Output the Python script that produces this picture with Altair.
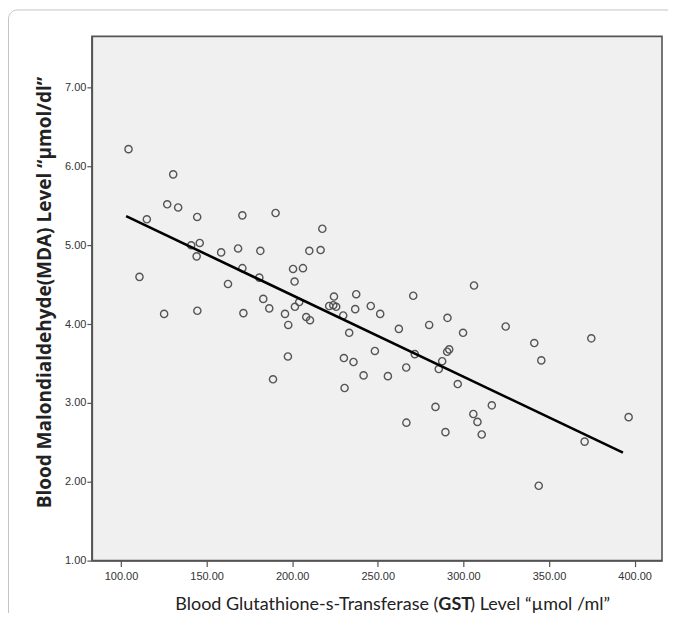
import altair as alt
import pandas as pd

gst = [104.4, 130.5, 127.0, 133.4, 115.1, 144.5, 170.9, 190.3, 141.0, 146.0,
       144.2, 158.5, 168.4, 181.4, 170.9, 180.8, 110.8, 162.5, 183.1, 186.6,
       125.2, 144.6, 171.5, 195.8, 197.7, 200.5, 217.6, 210.0, 216.6, 206.3,
       201.4, 306.2, 270.7, 237.4, 224.4, 201.6, 208.2, 210.4, 221.6, 224.0,
       225.7, 229.8, 236.8, 245.9, 251.4, 262.3, 280.0, 290.7, 299.8, 233.3,
       197.5, 230.2, 235.8, 241.7, 248.3, 188.8, 230.6, 324.7, 341.4, 345.5,
       374.7, 271.6, 291.7, 290.5, 287.6, 285.6, 266.6, 255.9, 296.7, 316.6,
       283.7, 305.8, 308.2, 266.7, 289.5, 310.7, 370.8, 396.5, 344.0, 204.1]
mda = [6.22, 5.90, 5.52, 5.48, 5.33, 5.36, 5.38, 5.41, 5.00, 5.03,
       4.86, 4.91, 4.96, 4.93, 4.71, 4.59, 4.60, 4.51, 4.32, 4.20,
       4.13, 4.17, 4.14, 4.13, 3.99, 4.70, 5.21, 4.93, 4.94, 4.71,
       4.54, 4.49, 4.36, 4.38, 4.35, 4.22, 4.09, 4.05, 4.23, 4.24,
       4.22, 4.11, 4.19, 4.23, 4.13, 3.94, 3.99, 4.08, 3.89, 3.89,
       3.59, 3.57, 3.52, 3.35, 3.66, 3.30, 3.19, 3.97, 3.76, 3.54,
       3.82, 3.62, 3.68, 3.65, 3.53, 3.43, 3.45, 3.34, 3.24, 2.97,
       2.95, 2.86, 2.76, 2.75, 2.63, 2.60, 2.51, 2.82, 1.95, 4.28]

# fit line (as drawn in the reference)
fit_gst = [103.0, 393.2]
fit_mda = [5.37, 2.37]

x_ticks = [100, 150, 200, 250, 300, 350, 400]
y_ticks = [1, 2, 3, 4, 5, 6, 7]

x_title_parts = ["Blood Glutathione-s-Transferase (", "GST", ") Level “µmol /ml”"]
y_title = "Blood Malondialdehyde(MDA)  Level “µmol/dl”"

df = pd.DataFrame({"gst": gst, "mda": mda})
fit_df = pd.DataFrame({"gst": fit_gst, "mda": fit_mda})

W, H = 571, 525
FONT = "Lato"

xs = alt.Scale(domain=[83, 416], nice=False, zero=False)
ys = alt.Scale(domain=[1, 7.65], nice=False, zero=False)

x_axis = alt.Axis(values=x_ticks, format=".2f", grid=False, title="",
                  labelFont="Liberation Sans", labelFontSize=11,
                  labelColor="#333", labelPadding=4, tickSize=6, tickColor="#555",
                  domainColor="#555", domainWidth=1.5, tickWidth=1.2)
y_axis = alt.Axis(values=y_ticks, format=".2f", grid=False,
                  title=y_title,
                  titleX=-47, titleY=256, titleAngle=270, titleBaseline="middle",
                  titleAlign="center", titleFont="Open Sans", titleFontSize=19,
                  titleFontWeight="bold", titleColor="#222",
                  labelFont="Liberation Sans", labelFontSize=11, labelColor="#333",
                  labelPadding=1, tickSize=5, tickColor="#555",
                  domainColor="#555", domainWidth=1.5, tickWidth=1.2)

base = alt.Chart(df)

points = base.mark_point(shape="circle", filled=False, size=52, stroke="#555",
                         strokeWidth=1.4, opacity=1).encode(
    x=alt.X("gst:Q", scale=xs, axis=x_axis),
    y=alt.Y("mda:Q", scale=ys, axis=y_axis),
)

fit = alt.Chart(fit_df).mark_line(color="black", strokeWidth=2.6).encode(
    x=alt.X("gst:Q", scale=xs),
    y=alt.Y("mda:Q", scale=ys),
)

one = pd.DataFrame({"a": [0]})
frame = alt.Chart(one).mark_rect(
    fill="white", fillOpacity=0, stroke="#c4c4c4", strokeWidth=1, cornerRadius=9
).encode(x=alt.value(-83.5), x2=alt.value(700), y=alt.value(-26.5), y2=alt.value(700))

# x-axis title with bold "GST"
GX = 347.0      # left edge of "GST" relative to plot's left edge
GW = 32.0       # width of bold "GST"
TY = H + 44
tfont = dict(font=FONT, fontSize=18, color="#222", baseline="middle")
t1 = alt.Chart(one).mark_text(align="right", fontWeight="normal", text=x_title_parts[0],
                              **tfont).encode(x=alt.value(GX), y=alt.value(TY))
t2 = alt.Chart(one).mark_text(align="left", fontWeight="bold", text=x_title_parts[1],
                              **tfont).encode(x=alt.value(GX), y=alt.value(TY))
t3 = alt.Chart(one).mark_text(align="left", fontWeight="normal", text=x_title_parts[2],
                              **tfont).encode(x=alt.value(GX + GW), y=alt.value(TY))

chart = alt.layer(frame, points, fit, t1, t2, t3).properties(
    width=W, height=H,
    autosize="none",
    padding={"left": 84, "top": 28, "right": 6, "bottom": 52},
    background="white",
).configure_view(
    fill="#f0f0f0", stroke="#555", strokeWidth=1.6
)

chart.save("out.html", embed_options={"renderer": "svg", "actions": False})
